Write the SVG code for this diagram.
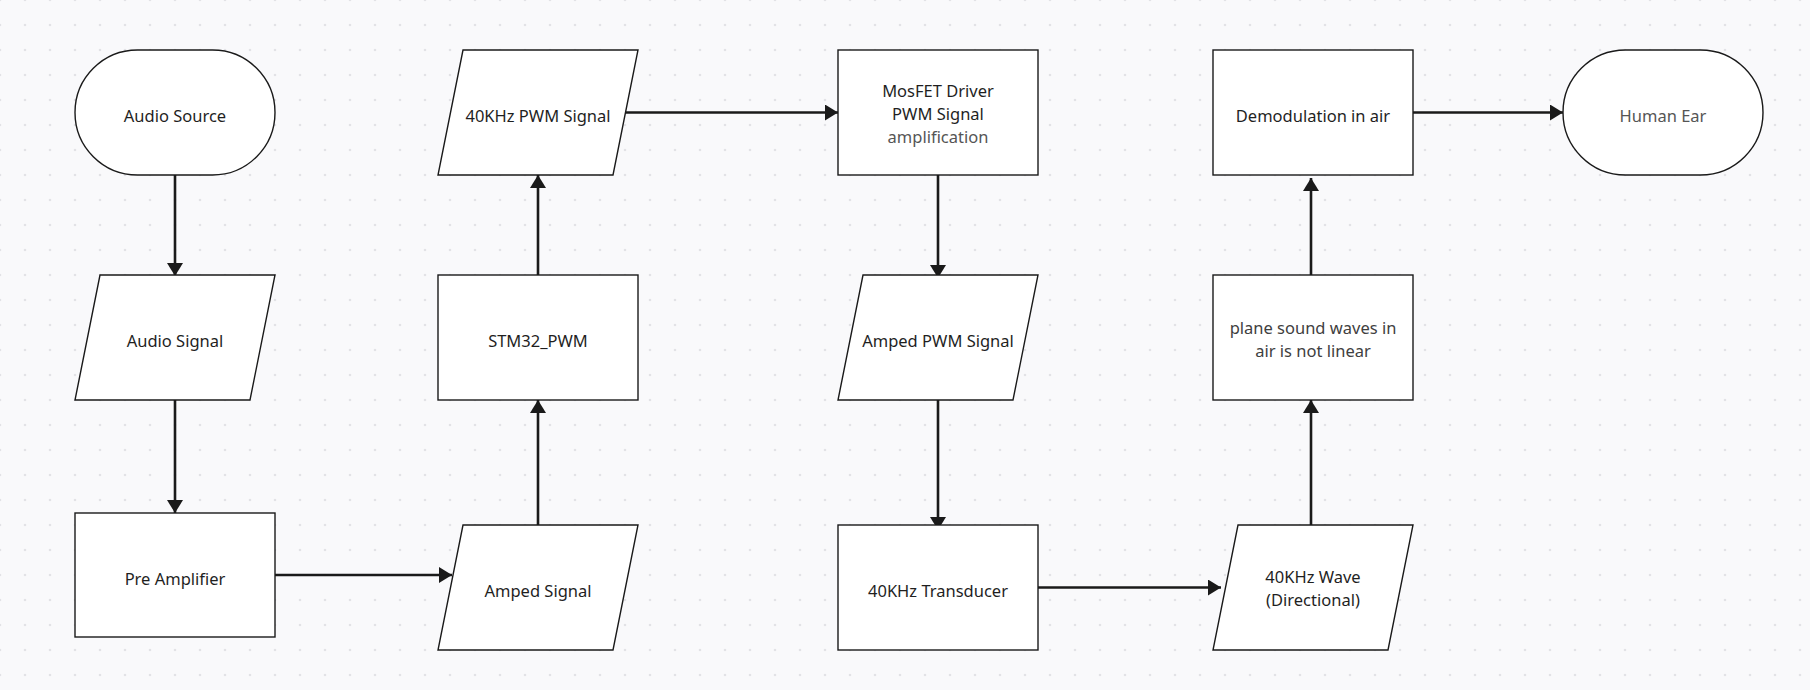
<svg xmlns="http://www.w3.org/2000/svg" width="1810" height="690" viewBox="0 0 1810 690">
<defs>
<pattern id="dots" x="0" y="0" width="25" height="25" patternUnits="userSpaceOnUse">
<circle cx="0" cy="0" r="1.3" fill="#e2e2e6"/><circle cx="25" cy="0" r="1.3" fill="#e2e2e6"/><circle cx="0" cy="25" r="1.3" fill="#e2e2e6"/><circle cx="25" cy="25" r="1.3" fill="#e2e2e6"/>
</pattern>
<marker id="arr" viewBox="0 0 13 16" refX="13" refY="8" markerWidth="13" markerHeight="16" markerUnits="userSpaceOnUse" orient="auto">
<path d="M0,0 L13,8 L0,16 Z" fill="#1a1a1a"/>
</marker>
<style>
.shape{fill:#ffffff;stroke:#1a1a1a;stroke-width:1.4}
.t{font-family:"Noto Sans","Open Sans","DejaVu Sans",sans-serif;font-size:16.5px;fill:#1f1f1f;text-anchor:middle}
.g{fill:#555555}
.d{fill:#404040}
.c{fill:none;stroke:#1a1a1a;stroke-width:2.6;marker-end:url(#arr)}
</style>
</defs>
<rect width="1810" height="690" fill="#f9f9fb"/>
<rect width="1810" height="690" fill="url(#dots)"/>
<g id="connectors">
<path class="c" d="M175,175 V276"/>
<path class="c" d="M175,400 V513"/>
<path class="c" d="M275,575 H452"/>
<path class="c" d="M538,525 V400"/>
<path class="c" d="M538,275 V175"/>
<path class="c" d="M626,112.5 H838"/>
<path class="c" d="M938,175 V278"/>
<path class="c" d="M938,400 V530"/>
<path class="c" d="M1038,587.5 H1221"/>
<path class="c" d="M1311,525 V400"/>
<path class="c" d="M1311,275 V178"/>
<path class="c" d="M1413,112.5 H1563"/>
</g>
<g id="audio-source">
<rect class="shape" x="75" y="50" width="200" height="125" rx="62.5" ry="62.5"/>
<text class="t" x="175" y="122">Audio Source</text>
</g>
<g id="audio-signal">
<polygon class="shape" points="100,275 275,275 250,400 75,400"/>
<text class="t" x="175" y="347">Audio Signal</text>
</g>
<g id="pre-amplifier">
<rect class="shape" x="75" y="513" width="200" height="124"/>
<text class="t" x="175" y="585">Pre Amplifier</text>
</g>
<g id="amped-signal">
<polygon class="shape" points="463,525 638,525 613,650 438,650"/>
<text class="t" x="538" y="597">Amped Signal</text>
</g>
<g id="stm32-pwm">
<rect class="shape" x="438" y="275" width="200" height="125"/>
<text class="t" x="538" y="347">STM32_PWM</text>
</g>
<g id="pwm-signal">
<polygon class="shape" points="463,50 638,50 613,175 438,175"/>
<text class="t" x="538" y="122">40KHz PWM Signal</text>
</g>
<g id="mosfet-driver">
<rect class="shape" x="838" y="50" width="200" height="125"/>
<text class="t" x="938" y="97">MosFET Driver</text>
<text class="t" x="938" y="120">PWM Signal</text>
<text class="t g" x="938" y="143">amplification</text>
</g>
<g id="amped-pwm-signal">
<polygon class="shape" points="863,275 1038,275 1013,400 838,400"/>
<text class="t" x="938" y="347">Amped PWM Signal</text>
</g>
<g id="transducer">
<rect class="shape" x="838" y="525" width="200" height="125"/>
<text class="t" x="938" y="597">40KHz Transducer</text>
</g>
<g id="wave">
<polygon class="shape" points="1238,525 1413,525 1388,650 1213,650"/>
<text class="t" x="1313" y="583">40KHz Wave</text>
<text class="t" x="1313" y="606">(Directional)</text>
</g>
<g id="plane-sound">
<rect class="shape" x="1213" y="275" width="200" height="125"/>
<text class="t d" x="1313" y="334">plane sound waves in</text>
<text class="t d" x="1313" y="357">air is not linear</text>
</g>
<g id="demodulation">
<rect class="shape" x="1213" y="50" width="200" height="125"/>
<text class="t" x="1313" y="122">Demodulation in air</text>
</g>
<g id="human-ear">
<rect class="shape" x="1563" y="50" width="200" height="125" rx="62.5" ry="62.5"/>
<text class="t g" x="1663" y="122">Human Ear</text>
</g>
</svg>
